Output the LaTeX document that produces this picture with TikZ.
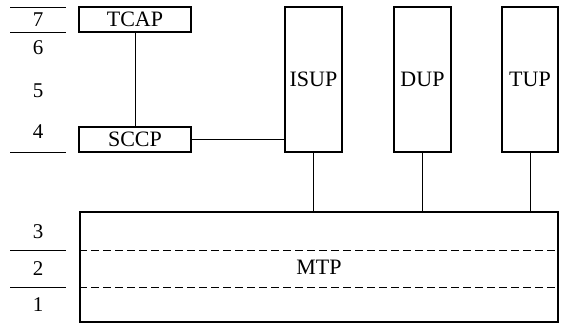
\documentclass[tikz,border=0pt]{standalone}
\usepackage{fontspec}
\setmainfont{Liberation Serif}
\usetikzlibrary{positioning, calc}

\begin{document}
\begin{tikzpicture}[x=1pt, y=-1pt,
      proto/.style={rectangle, draw=black, line width=1.4pt, inner sep=0pt,
        font=\fontsize{22}{24}\selectfont},
      layernum/.style={font=\fontsize{21}{23}\selectfont, inner sep=0pt},
      layerline/.style={line width=0.8pt},
      link/.style={line width=0.8pt},
      sublayer/.style={line width=0.7pt, dash pattern=on 8pt off 4pt}
    ]
      \useasboundingbox (0,0) rectangle (566,324);
      % protocol boxes
      \node[proto, minimum width=112pt, minimum height=25pt] (tcap) at (135,19.5) {TCAP};
      \node[proto, minimum width=112pt, minimum height=25pt] (sccp) at (135,139.5) {SCCP};
      \node[proto, minimum width=57pt, minimum height=145pt] (isup) at (313.5,79.5) {ISUP};
      \node[proto, minimum width=57pt, minimum height=145pt] (dup) at (422.5,79.5) {DUP};
      \node[proto, minimum width=56pt, minimum height=145pt] (tup) at (530,79.5) {TUP};
      \node[proto, minimum width=478pt, minimum height=110pt] (mtp) at (319,267) {MTP};
      % sublayers of MTP
      \draw[sublayer] ($(mtp.west)+(0,-17)$) -- ($(mtp.east)+(0,-17)$);
      \draw[sublayer] ($(mtp.west)+(0,20)$) -- ($(mtp.east)+(0,20)$);
      % connections
      \draw[link] (tcap) -- (sccp);
      \draw[link] (sccp.east) -- (sccp.east -| isup.west);
      \draw[link] (isup.south) -- (isup.south |- mtp.north);
      \draw[link] (dup.south) -- (dup.south |- mtp.north);
      \draw[link] (tup.south) -- (tup.south |- mtp.north);
      % layer numbers
      \foreach \y in {7,32,152,250,287}
        \draw[layerline] (10,\y) -- (66,\y);
      \node[layernum] (n7) at (38,19.5) {7};
      \node[layernum] (n6) at (38,48) {6};
      \node[layernum] (n5) at (38,91) {5};
      \node[layernum] (n4) at (38,132) {4};
      \node[layernum] (n3) at (38,232) {3};
      \node[layernum] (n2) at (38,268.5) {2};
      \node[layernum] (n1) at (38,305) {1};
    \end{tikzpicture}
\end{document}
